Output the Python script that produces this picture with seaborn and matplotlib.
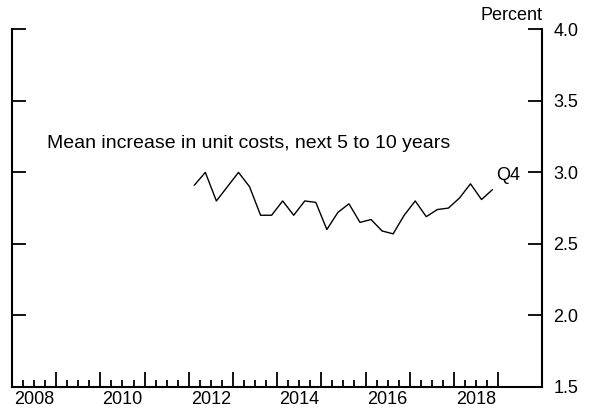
import numpy as np
import pandas as pd
import matplotlib
matplotlib.use("Agg")
import matplotlib.pyplot as plt
import seaborn as sns

# Quarterly survey, 2012Q1 - 2018Q4
quarters = pd.period_range("2012Q1", "2018Q4", freq="Q")
unit_costs = [2.91, 3.00, 2.80, 2.90, 3.00, 2.90, 2.70, 2.70,
              2.80, 2.70, 2.80, 2.79, 2.60, 2.72, 2.78, 2.65,
              2.67, 2.59, 2.57, 2.70, 2.80, 2.69, 2.74, 2.75,
              2.82, 2.92, 2.81, 2.88]

year_labels = ["2008", "2010", "2012", "2014", "2016", "2018"]
y_ticks = [1.5, 2.0, 2.5, 3.0, 3.5, 4.0]

# place each quarter at the middle of its span
x_pos = [q.year + (q.quarter - 0.5) / 4 for q in quarters]
df = pd.DataFrame({"date": x_pos, "value": unit_costs})

sns.set_style("ticks")
plt.rcParams["font.family"] = ["Liberation Sans", "DejaVu Sans"]
plt.rcParams["font.size"] = 13
for key in ["text.color", "xtick.color", "ytick.color", "axes.edgecolor",
            "xtick.labelcolor", "ytick.labelcolor"]:
    plt.rcParams[key] = "black"

fig = plt.figure(figsize=(5.92, 4.12), dpi=100)
ax = fig.add_axes([0.0203, 0.0614, 0.8957, 0.867])

sns.lineplot(data=df, x="date", y="value", color="black", linewidth=1.0, ax=ax)

ax.set_xlim(2008, 2020)
ax.set_ylim(1.5, 4.0)
ax.set_xlabel("")
ax.set_ylabel("")

for side in ["left", "right", "bottom"]:
    ax.spines[side].set_visible(True)
    ax.spines[side].set_linewidth(1.5)
ax.spines["top"].set_visible(False)

# x: year boundaries (major), quarters (minor), labels centred on years
ax.set_xticks(np.arange(2008, 2020))
ax.set_xticks([y + q / 4 for y in range(2008, 2019) for q in (1, 2, 3)], minor=True)
ax.tick_params(axis="x", which="major", direction="in", length=10.5, width=1.3,
               labelbottom=False)
ax.tick_params(axis="x", which="minor", direction="in", length=5, width=1.3)

sec = ax.secondary_xaxis("bottom")
sec.set_xticks([int(y) + 0.5 for y in year_labels], labels=year_labels)
sec.tick_params(length=0, pad=3, labelsize=13, colors="black")
sec.spines["bottom"].set_visible(False)

# y: ticks on both sides, labels on the right
ax.set_yticks(y_ticks)
ax.set_yticklabels([f"{v:.1f}" for v in y_ticks])
ax.tick_params(axis="y", which="major", direction="in", length=10, width=1.3,
               left=True, right=True, labelleft=False, labelright=True, pad=8,
               labelsize=13)

ax.text(1.0, 1.015, "Percent", transform=ax.transAxes, ha="right", va="bottom",
        fontsize=13)
ax.text(2008.79, 3.172, "Mean increase in unit costs, next 5 to 10 years",
        ha="left", va="baseline", fontsize=14)
ax.text(2019.51, 2.946, "Q4", ha="right", va="baseline", fontsize=13)

fig.savefig("out.png", dpi=100)
